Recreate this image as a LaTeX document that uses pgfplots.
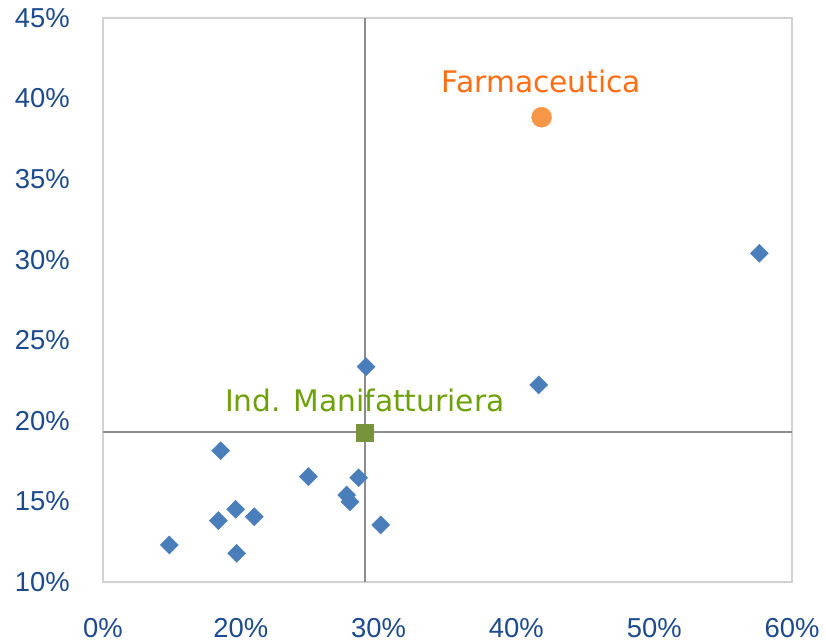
\documentclass[border=0pt]{standalone}
\usepackage{pgfplots}
\pgfplotsset{compat=1.18}
\usepackage{fontspec}
\setmainfont{Liberation Sans}
\newfontfamily\labfont{DejaVu Sans}
\definecolor{ticktxt}{RGB}{28,74,140}
\definecolor{diam}{RGB}{74,126,187}
\definecolor{orangept}{RGB}{247,150,70}
\definecolor{orangetxt}{RGB}{255,110,20}
\definecolor{greenpt}{RGB}{119,147,60}
\definecolor{greentxt}{RGB}{110,160,10}
\definecolor{crossline}{RGB}{140,140,140}
\definecolor{frame}{RGB}{210,210,210}
\begin{document}
\begin{tikzpicture}
\path[use as bounding box] (0,0) rectangle (826bp,643bp);
\begin{axis}[
  at={(103bp,61bp)}, anchor=south west,
  width=689bp, height=564bp, scale only axis,
  xmin=10, xmax=60, ymin=10, ymax=45,
  xtick={10,20,30,40,50,60},
  xticklabels={0\%,20\%,30\%,40\%,50\%,60\%},
  ytick={10,15,20,25,30,35,40,45},
  yticklabels={10\%,15\%,20\%,25\%,30\%,35\%,40\%,45\%},
  major tick length=0pt,
  axis line style={frame, line width=1.5bp},
  tick label style={font=\fontsize{27.5}{31}\selectfont, text=ticktxt, inner sep=0pt},
  yticklabel style={anchor=east, xshift=-33bp},
  xticklabel style={anchor=north, yshift=-36bp},
  clip=false,
]
% reference lines
\addplot[crossline, line width=2bp, no marks] coordinates {(29.0,10) (29.0,45)};
\addplot[crossline, line width=2bp, no marks] coordinates {(10,19.3) (60,19.3)};
% sectors
\addplot[only marks, mark=square*, mark size=6.4bp, mark options={rotate=45, fill=diam, draw=diam}] coordinates {
(29.09,23.36) (18.54,18.15) (24.90,16.54) (28.55,16.47) (27.68,15.40)
(27.92,14.98) (30.15,13.54) (19.63,14.51) (18.37,13.81) (20.98,14.05)
(14.81,12.30) (19.70,11.78) (57.63,30.40) (41.62,22.23)
};
\addplot[only marks, mark=square*, mark size=8.7bp, mark options={fill=greenpt, draw=greenpt}] coordinates {(29.0,19.27)};
\addplot[only marks, mark=*, mark size=10bp, mark options={fill=orangept, draw=orangept}] coordinates {(41.83,38.84)};
\node[anchor=base, text=orangetxt, font=\labfont\fontsize{29.8}{33}\selectfont, inner sep=0pt] at (axis cs:41.82,40.35) {Farmaceutica};
\node[anchor=base, text=greentxt, font=\labfont\fontsize{29.8}{33}\selectfont, inner sep=0pt] at (axis cs:29.0,20.57) {Ind. Manifatturiera};
\end{axis}
\end{tikzpicture}
\end{document}
